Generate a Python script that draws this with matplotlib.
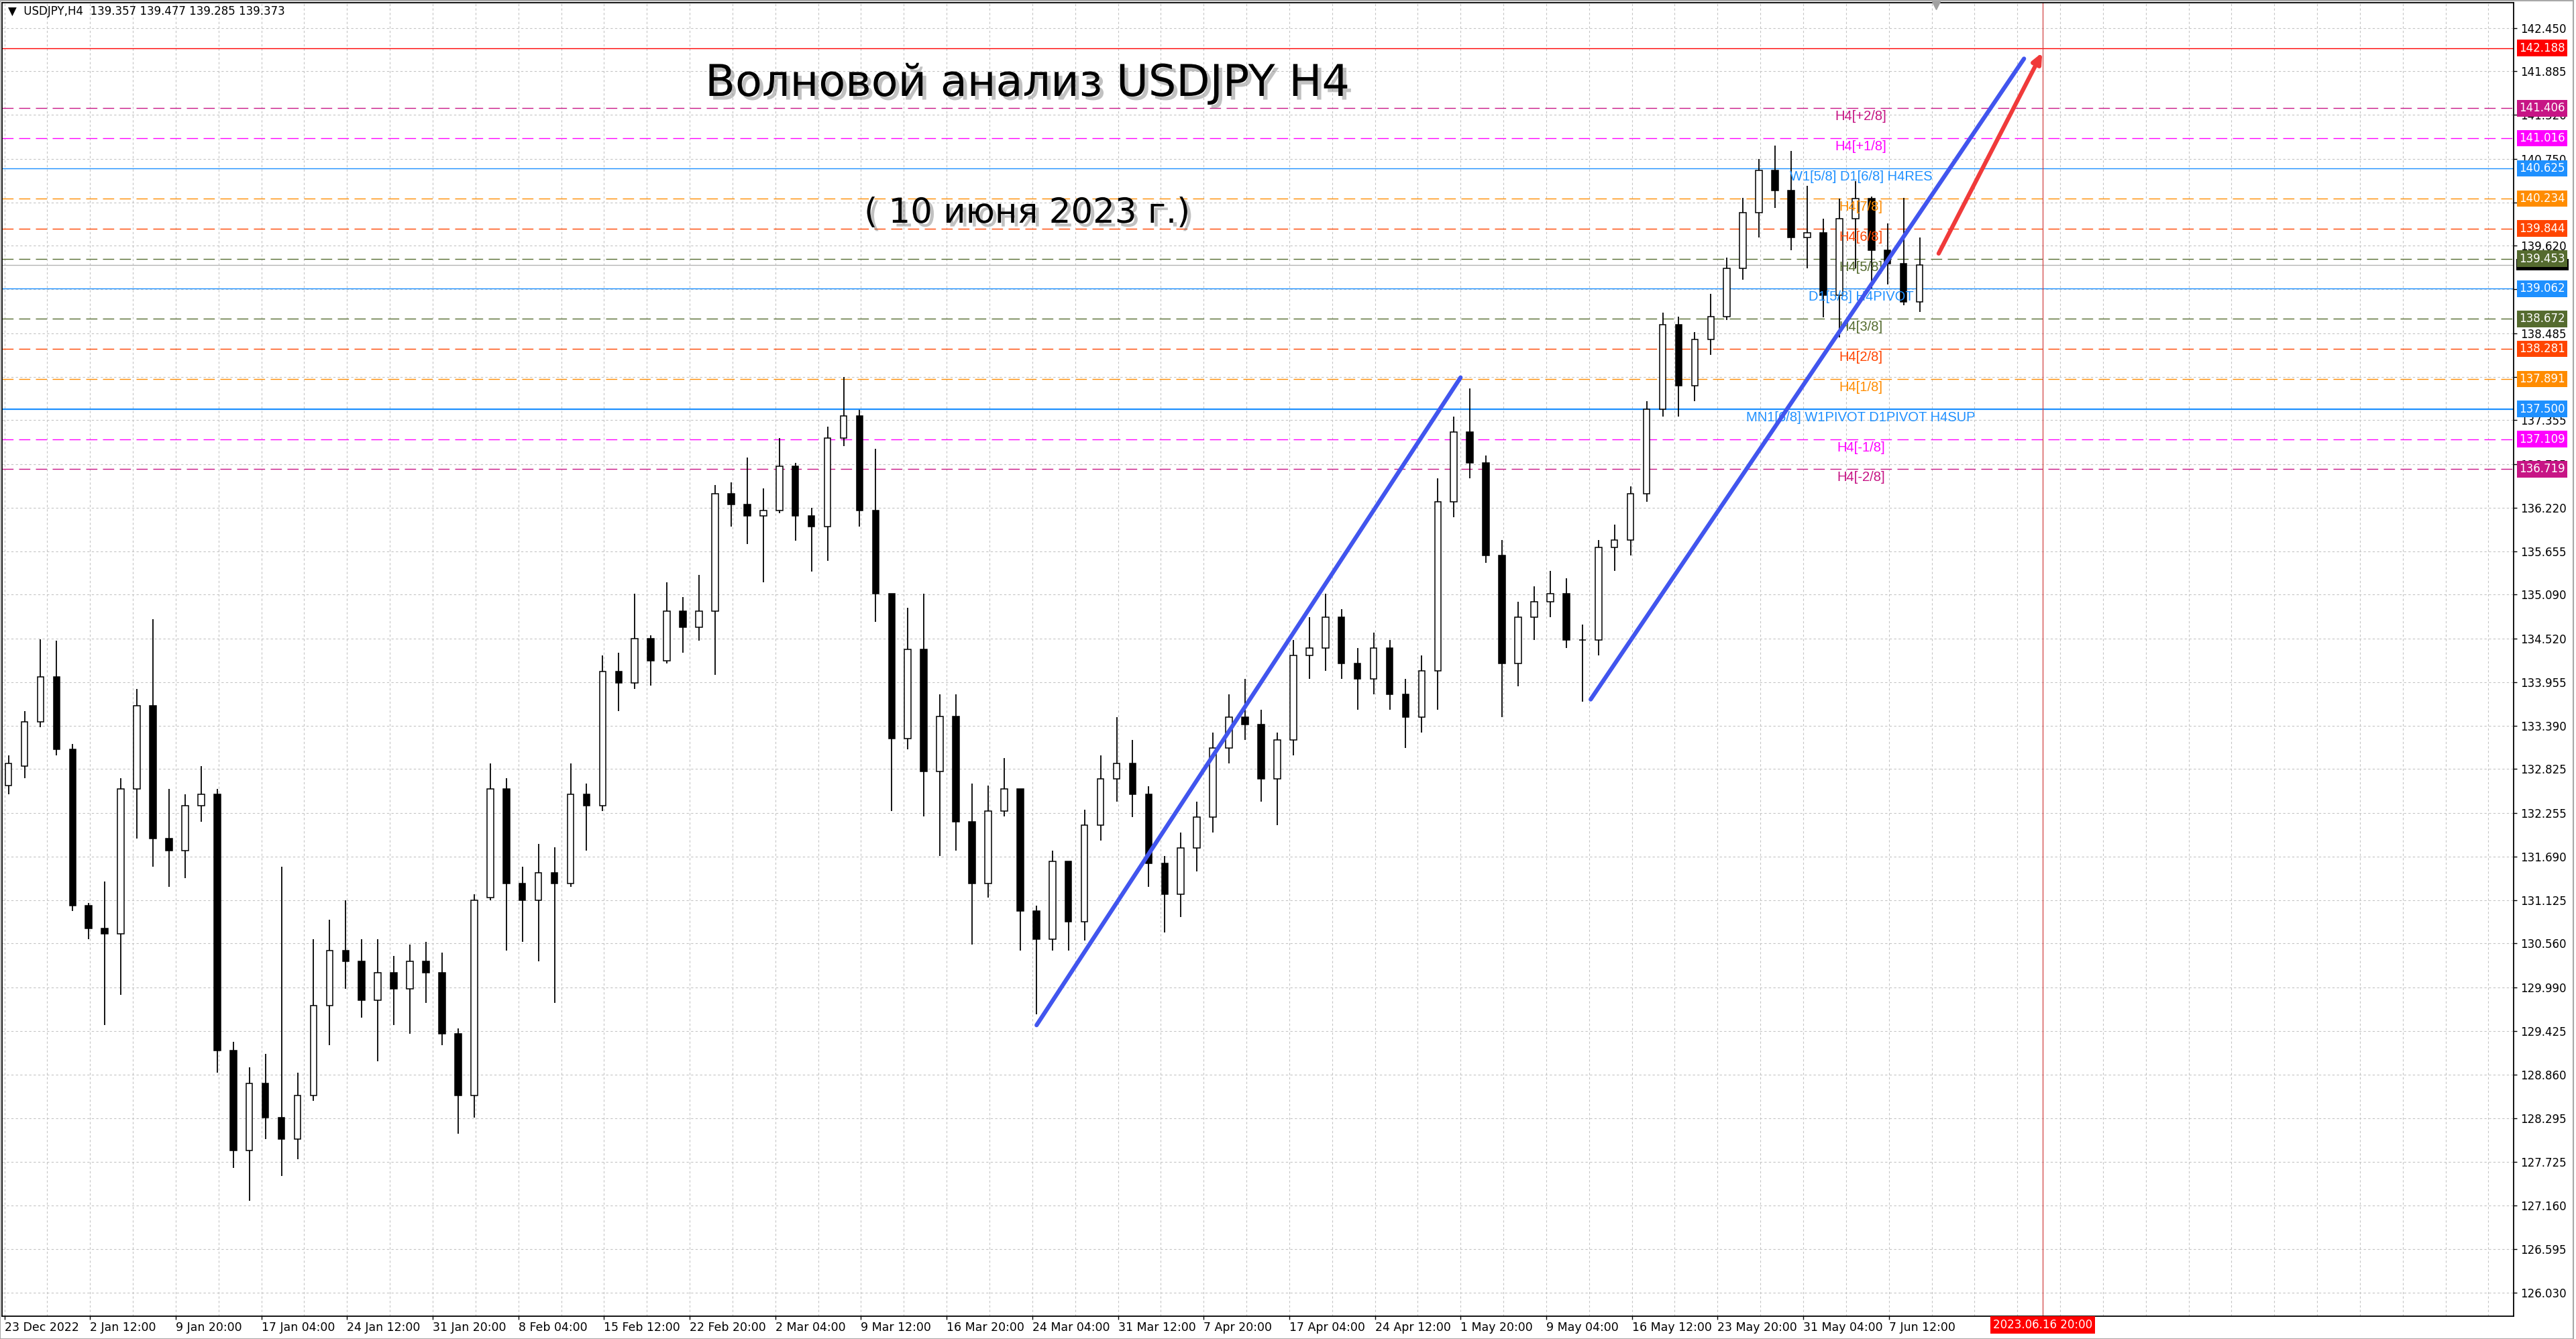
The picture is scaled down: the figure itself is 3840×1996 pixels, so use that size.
import numpy as np
import matplotlib
matplotlib.use("Agg")
import matplotlib.pyplot as plt
import matplotlib.transforms as mtransforms
import matplotlib.patheffects as pe
from matplotlib.patches import Rectangle

# USDJPY H4, read off the screenshot and grouped per trading day
# (day 0 = 2 Jan 2023, every day = 6 H4 slots on the time axis)
day_index = list(range(-5, 115))
opens = [132.61, 132.86, 133.44, 134.02, 133.08, 131.05, 130.76, 130.69, 132.57, 133.65,
         131.92, 131.77, 132.35, 132.50, 129.17, 127.87, 128.74, 128.30, 128.02, 128.59,
         129.75, 130.47, 130.33, 129.82, 130.18, 129.97, 130.33, 130.18, 129.39, 128.59,
         131.16, 132.57, 131.34, 131.12, 131.48, 131.34, 132.50, 132.35, 134.09, 133.94,
         134.52, 134.23, 134.88, 134.67, 134.88, 136.40, 136.26, 136.11, 136.18, 136.76,
         136.11, 135.97, 137.12, 137.41, 136.18, 135.10, 133.22, 134.38, 132.79, 133.51,
         132.14, 131.34, 132.28, 132.57, 130.98, 130.62, 131.63, 130.84, 132.10, 132.70,
         132.90, 132.50, 131.60, 131.20, 131.80, 132.20, 133.10, 133.50, 133.40, 132.70,
         133.20, 134.30, 134.40, 134.80, 134.20, 134.00, 134.40, 133.80, 133.50, 134.10,
         136.30, 137.20, 136.80, 135.60, 134.20, 134.80, 135.00, 135.10, 134.50, 134.50,
         135.70, 135.80, 136.40, 137.50, 138.60, 137.80, 138.40, 138.70, 139.33, 140.05,
         140.60, 140.34, 139.73, 139.79, 138.98, 139.97, 140.23, 139.56, 139.39, 138.89]
highs = [133.00, 133.58, 134.51, 134.49, 133.15, 131.09, 131.37, 132.71, 133.87, 134.77,
         132.57, 132.50, 132.86, 132.57, 129.28, 128.95, 129.13, 131.56, 128.88, 130.62,
         130.87, 131.12, 130.62, 130.62, 130.40, 130.55, 130.58, 130.44, 129.46, 131.20,
         132.90, 132.71, 131.56, 131.85, 131.81, 132.90, 132.64, 134.30, 134.34, 135.10,
         134.56, 135.25, 135.06, 135.35, 136.51, 136.55, 136.87, 136.47, 137.12, 136.80,
         136.22, 137.27, 137.92, 137.49, 136.98, 135.10, 134.92, 135.10, 133.80, 133.80,
         132.64, 132.61, 132.97, 132.57, 131.05, 131.77, 131.63, 132.30, 133.00, 133.50,
         133.20, 132.60, 131.70, 132.00, 132.40, 133.30, 133.80, 134.00, 133.60, 133.30,
         134.50, 134.80, 135.10, 134.90, 134.40, 134.60, 134.50, 134.00, 134.30, 136.60,
         137.40, 137.77, 136.90, 135.80, 135.00, 135.20, 135.40, 135.30, 134.70, 135.80,
         136.00, 136.50, 137.60, 138.75, 138.70, 138.50, 139.00, 139.47, 140.24, 140.75,
         140.92, 140.85, 140.40, 139.97, 140.23, 140.46, 140.26, 139.91, 140.24, 139.73]
lows = [132.50, 132.71, 133.37, 133.00, 130.98, 130.62, 129.50, 129.89, 131.92, 131.56,
        131.30, 131.41, 132.14, 128.88, 127.65, 127.22, 128.02, 127.54, 127.76, 128.52,
        129.24, 129.97, 129.60, 129.03, 129.50, 129.39, 129.79, 129.24, 128.09, 128.30,
        131.12, 130.47, 130.58, 130.33, 129.79, 131.30, 131.77, 132.28, 133.58, 133.87,
        133.91, 134.20, 134.34, 134.49, 134.05, 135.97, 135.75, 135.25, 136.15, 135.79,
        135.39, 135.53, 137.02, 135.97, 134.74, 132.28, 133.08, 132.21, 131.70, 131.77,
        130.55, 131.16, 132.21, 130.47, 129.64, 130.47, 130.47, 130.60, 131.90, 132.40,
        132.20, 131.30, 130.70, 130.90, 131.50, 132.00, 132.90, 133.20, 132.40, 132.10,
        133.00, 134.00, 134.10, 134.00, 133.60, 133.80, 133.60, 133.10, 133.30, 133.60,
        136.10, 136.60, 135.50, 133.50, 133.90, 134.50, 134.80, 134.40, 133.70, 134.30,
        135.40, 135.60, 136.30, 137.40, 137.40, 137.60, 138.20, 138.66, 139.18, 139.73,
        140.11, 139.56, 139.33, 138.69, 138.43, 139.33, 139.07, 139.12, 138.85, 138.76]
closes = [132.90, 133.44, 134.02, 133.08, 131.05, 130.76, 130.69, 132.57, 133.65, 131.92,
          131.77, 132.35, 132.50, 129.17, 127.87, 128.74, 128.30, 128.02, 128.59, 129.75,
          130.47, 130.33, 129.82, 130.18, 129.97, 130.33, 130.18, 129.39, 128.59, 131.12,
          132.57, 131.34, 131.12, 131.48, 131.34, 132.50, 132.35, 134.09, 133.94, 134.52,
          134.23, 134.88, 134.67, 134.88, 136.40, 136.26, 136.11, 136.18, 136.76, 136.11,
          135.97, 137.12, 137.41, 136.18, 135.10, 133.22, 134.38, 132.79, 133.51, 132.14,
          131.34, 132.28, 132.57, 130.98, 130.62, 131.63, 130.84, 132.10, 132.70, 132.90,
          132.50, 131.60, 131.20, 131.80, 132.20, 133.10, 133.50, 133.40, 132.70, 133.20,
          134.30, 134.40, 134.80, 134.20, 134.00, 134.40, 133.80, 133.50, 134.10, 136.30,
          137.20, 136.80, 135.60, 134.20, 134.80, 135.00, 135.10, 134.50, 134.50, 135.70,
          135.80, 136.40, 137.50, 138.60, 137.80, 138.40, 138.70, 139.33, 140.05, 140.60,
          140.34, 139.73, 139.79, 138.98, 139.97, 140.23, 139.56, 139.39, 138.89, 139.373]

time_labels = ["23 Dec 2022", "2 Jan 12:00", "9 Jan 20:00", "17 Jan 04:00", "24 Jan 12:00",
               "31 Jan 20:00", "8 Feb 04:00", "15 Feb 12:00", "22 Feb 20:00", "2 Mar 04:00",
               "9 Mar 12:00", "16 Mar 20:00", "24 Mar 04:00", "31 Mar 12:00", "7 Apr 20:00",
               "17 Apr 04:00", "24 Apr 12:00", "1 May 20:00", "9 May 04:00", "16 May 12:00",
               "23 May 20:00", "31 May 04:00", "7 Jun 12:00"]
price_ticks = [142.450, 141.885, 141.320, 140.750, 140.185, 139.620, 139.055, 138.485,
               137.920, 137.355, 136.785, 136.220, 135.655, 135.090, 134.520, 133.955,
               133.390, 132.825, 132.255, 131.690, 131.125, 130.560, 129.990, 129.425,
               128.860, 128.295, 127.725, 127.160, 126.595, 126.030]
# these scale labels sit completely under the level boxes in the screenshot
covered_ticks = [140.185, 139.055]

# murrey / pivot levels
level_prices = [142.188, 141.406, 141.016, 140.625, 140.234, 139.844, 139.453,
                139.062, 138.672, 138.281, 137.891, 137.500, 137.109, 136.719]
level_colors = ["#FF0000", "#C71585", "#FF00FF", "#1E90FF", "#FF8C00", "#FF4500", "#556B2F",
                "#1E90FF", "#556B2F", "#FF4500", "#FF8C00", "#1E90FF", "#FF00FF", "#C71585"]
level_dashed = [False, True, True, False, True, True, True,
                False, True, True, True, False, True, True]
level_names = [None, "H4[+2/8]", "H4[+1/8]", "W1[5/8] D1[6/8] H4RES", "H4[7/8]", "H4[6/8]",
               "H4[5/8]", "D1[5/8] H4PIVOT", "H4[3/8]", "H4[2/8]", "H4[1/8]",
               "MN1[6/8] W1PIVOT D1PIVOT H4SUP", "H4[-1/8]", "H4[-2/8]"]
bid_price = 139.373

# hand drawn lines (bar slot, price)
channel_lower = [(385.6, 129.50), (544.0, 137.91)]
channel_upper = [(592.6, 133.73), (754.5, 142.05)]
forecast_arrow = [(722.6, 139.52), (761.3, 142.13)]
future_bar = 761.5

W, H = 3840, 1996
fig = plt.figure(figsize=(W / 100, H / 100), dpi=100)
fig.patch.set_facecolor("white")
ax = fig.add_axes([3 / W, (H - 1962) / H, (3747 - 3) / W, (1962 - 4) / H])
ax.set_xlim(-0.9, 937.4)
ax.set_ylim(125.721, 142.777)

grid_kw = dict(color="#c4c4c4", lw=0.8, ls=(0, (3, 3)), zorder=0)
for p in price_ticks:
    ax.axhline(p, **grid_kw)
for b in range(0, 937, 16):
    ax.axvline(b, **grid_kw)

# levels + labels
mt_font = "DejaVu Sans"
for p, c, d, name in zip(level_prices, level_colors, level_dashed, level_names):
    lw = 1.6 if p == 137.5 else 1.0
    if d:
        ax.axhline(p, color=c, lw=lw, ls=(0, (12, 6)), zorder=1)
    else:
        ax.axhline(p, color=c, lw=lw, zorder=1)
    if name:
        ax.annotate(name, xy=(693.6, p), xytext=(0, -3), textcoords="offset pixels",
                    ha="center", va="top", color=c, fontsize=14.5,
                    family="Liberation Sans", zorder=4)
ax.axhline(bid_price, color="#b4b4b4", lw=1.0, zorder=1)
ax.axvline(future_bar, color="#d04040", lw=0.9, zorder=1)

# candles
centers = 31.5 + 6 * np.array(day_index)
o = np.array(opens); h = np.array(highs); l = np.array(lows); c = np.array(closes)
ax.vlines(centers, l, h, color="black", lw=1.3, zorder=2)
bull = c >= o
body_w = 2.4
ax.bar(centers[bull], (c - o)[bull], bottom=o[bull], width=body_w,
       facecolor="white", edgecolor="black", lw=1.1, zorder=3)
ax.bar(centers[~bull], (o - c)[~bull], bottom=c[~bull], width=body_w,
       facecolor="black", edgecolor="black", lw=1.1, zorder=3)

# trend lines
for seg in (channel_lower, channel_upper):
    xs, ys = zip(*seg)
    ax.plot(xs, ys, color="#4155ee", lw=4.5, solid_capstyle="round", zorder=5)
ax.annotate("", xy=forecast_arrow[1], xytext=forecast_arrow[0],
            arrowprops=dict(arrowstyle="-|>,head_length=0.9,head_width=0.4",
                            color="#f03a3a", lw=4.5, shrinkA=0, shrinkB=0), zorder=5)

# shift marker at the top
ax.plot([721.5], [142.74], marker="v", ms=9, color="#a0a0a0", clip_on=False, zorder=6)

# axes look
for s in ax.spines.values():
    s.set_color("black")
    s.set_linewidth(1.3)
ax.yaxis.tick_right()
ax.set_yticks(price_ticks, ["" if p in covered_ticks else f"{p:.3f}" for p in price_ticks],
              fontsize=12, family=mt_font)
ax.tick_params(axis="y", direction="out", length=3.6, width=1, pad=3.6)
ax.set_xticks([32 * i for i in range(len(time_labels))], time_labels,
              fontsize=12.5, family=mt_font)
ax.tick_params(axis="x", direction="out", length=3.6, width=1, pad=2.5)
for lbl in ax.get_xticklabels():
    lbl.set_ha("left")

# price boxes on the right scale
blend = mtransforms.blended_transform_factory(ax.transAxes, ax.transData)
# bid box is almost hidden under the 139.453 box, only a black strip shows
ax.add_patch(Rectangle((1.0012, bid_price - 0.075), 0.0208, 0.15, transform=blend,
                       fc="black", ec="none", clip_on=False, zorder=9))
for i, (p, col) in enumerate(zip(level_prices, level_colors)):
    ax.annotate(f"{p:.3f}", xy=(1, p), xycoords=blend, xytext=(8, 0),
                textcoords="offset pixels", ha="left", va="center", color="white",
                fontsize=12, family=mt_font, zorder=10 + i, annotation_clip=False,
                bbox=dict(boxstyle="square,pad=0.2", fc=col, ec="none"))

# header and titles
fig.text(12 / W, 1 - 17 / H, "\u25bc  USDJPY,H4  139.357 139.477 139.285 139.373",
         fontsize=12, family=mt_font, va="center", ha="left")
shadow = [pe.SimplePatchShadow(offset=(4, -4), shadow_rgbFace="#777777", alpha=0.45), pe.Normal()]
fig.text(1531 / W, 1 - 125 / H, "Волновой анализ USDJPY H4", fontsize=47,
         family="DejaVu Sans", ha="center", va="center", path_effects=shadow)
fig.text(1531 / W, 1 - 318 / H, "( 10 июня 2023 г.)", fontsize=37,
         family="DejaVu Sans", ha="center", va="center", path_effects=shadow)
fig.text(3045 / W, 1 - 1975 / H, "2023.06.16 20:00", fontsize=12, family=mt_font,
         color="white", ha="center", va="center",
         bbox=dict(boxstyle="square,pad=0.25", fc="#ff0000", ec="none"))

fig.patches.append(Rectangle((0, 0), 1 - 4 / W, 1 - 0.5 / H, transform=fig.transFigure,
                             fill=False, ec="#a8a8a8", lw=1.5))

fig.savefig("out.png", dpi=100)
